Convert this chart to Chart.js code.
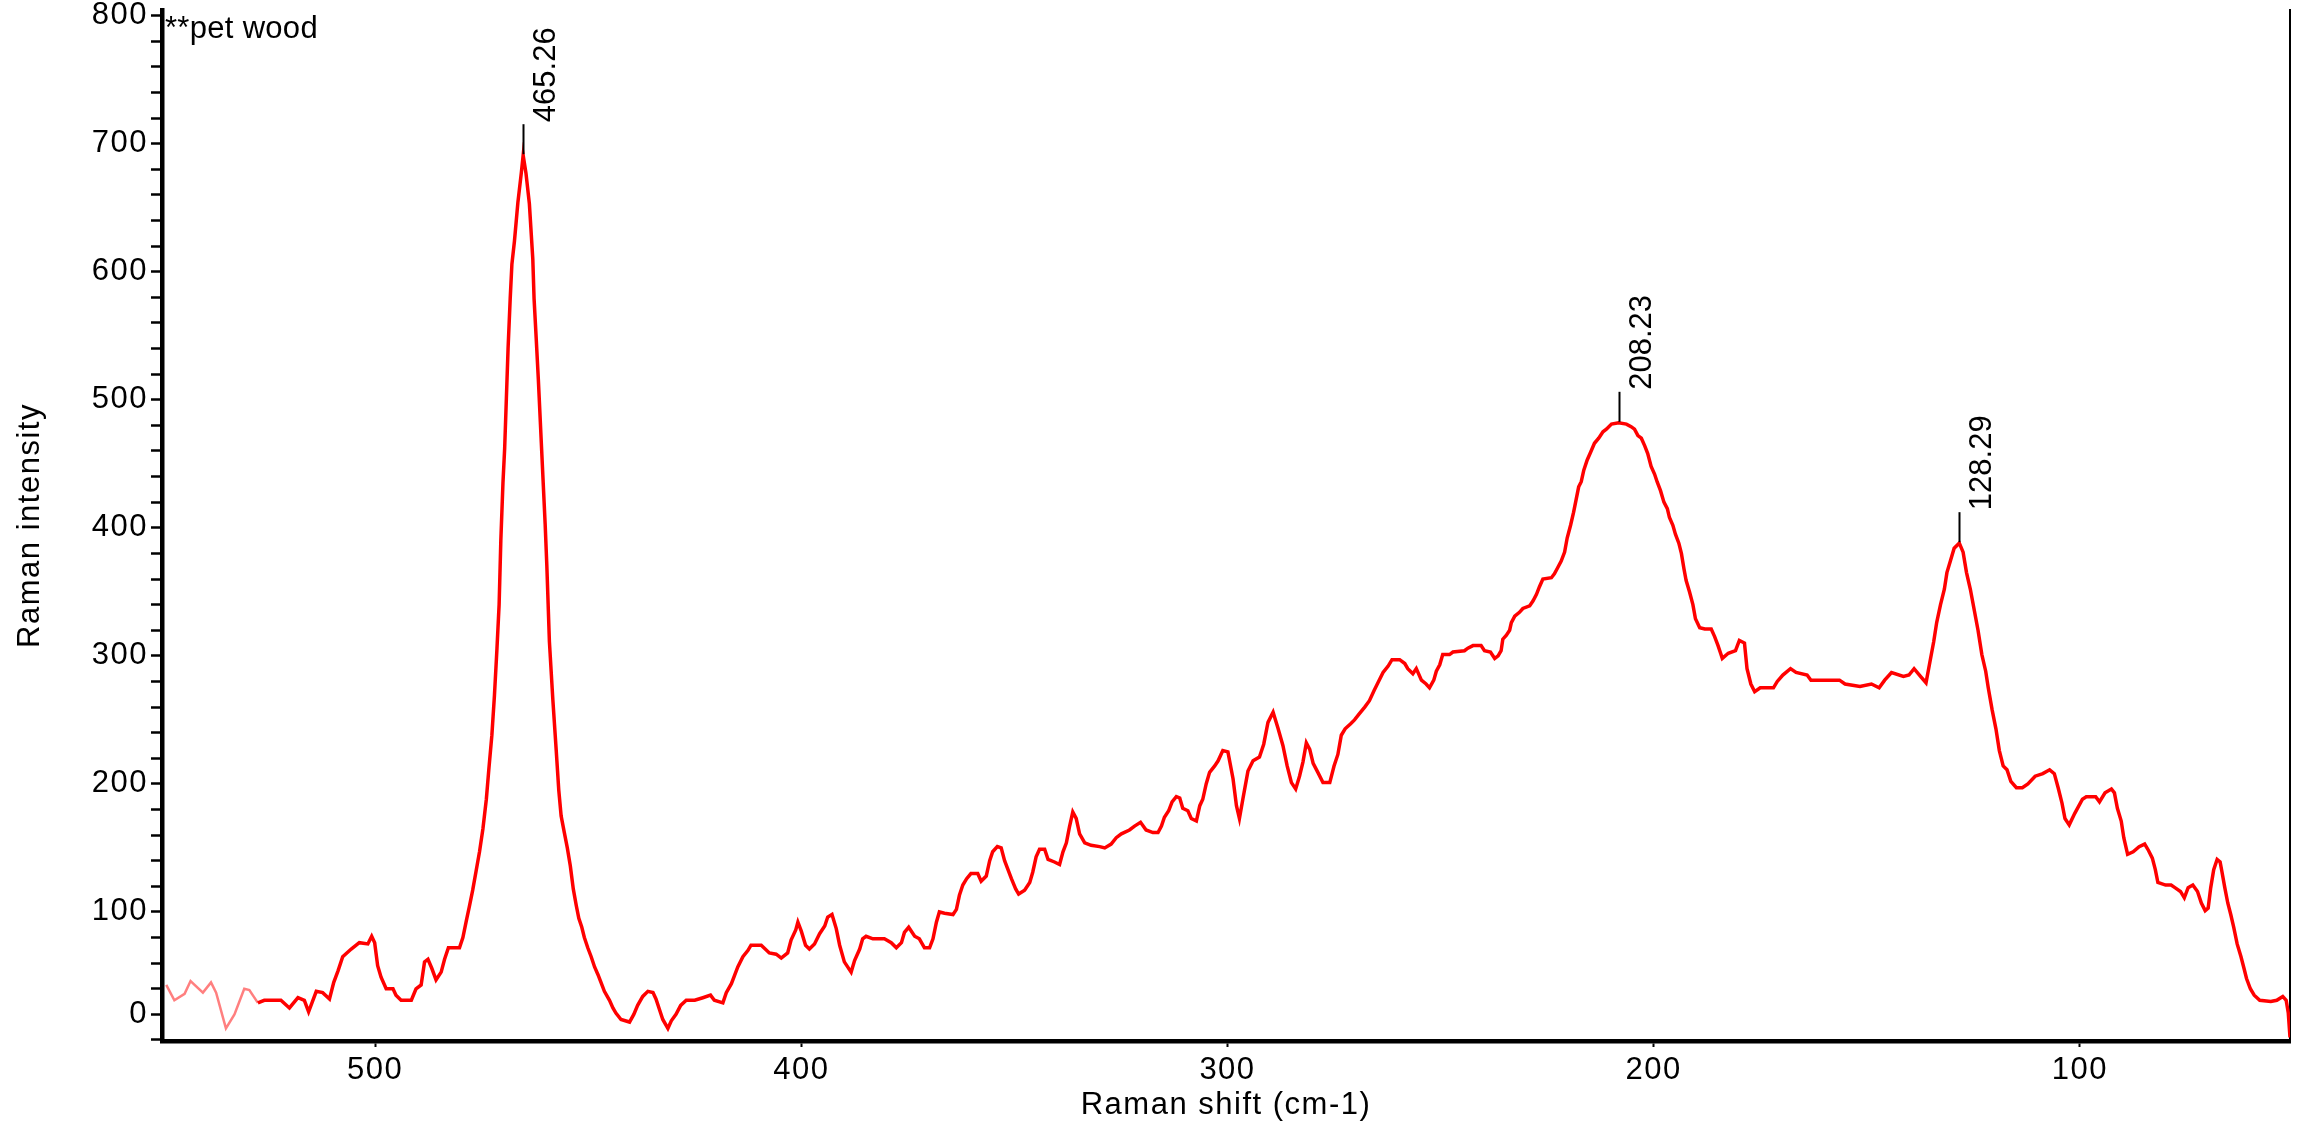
<!DOCTYPE html>
<html>
<head>
<meta charset="utf-8">
<script src="https://cdn.jsdelivr.net/npm/chart.js@4.4.1/dist/chart.umd.min.js"></script>
<style>
  html, body { margin: 0; padding: 0; background: #fff; }
</style>
</head>
<body>
<canvas id="spectrum" width="2305" height="1131"></canvas>
<script>
// spectrum (Raman shift in cm-1, intensity in counts)
const ramanShift = [
  549.0, 547.1, 544.7, 543.3, 540.4, 538.5, 537.3, 535.0, 533.0, 530.7, 529.5, 527.5, 526.0, 522.1, 520.1, 518.1,
  516.6, 515.6, 513.8, 512.3, 510.7, 509.7, 508.7, 507.6, 505.6, 503.7, 501.7, 500.8, 500.1, 499.4, 498.6, 497.4,
  495.8, 495.1, 493.9, 491.5, 490.4, 489.2, 488.4, 487.6, 486.7, 485.7, 484.5, 483.7, 482.8, 480.2, 479.4, 478.6,
  477.9, 477.1, 476.3, 475.5, 474.7, 473.9, 473.3, 472.6, 472.0, 471.4, 470.9, 470.5, 470.0, 469.6, 469.2, 468.8,
  468.3, 467.9, 467.3, 466.5, 465.7, 465.26, 464.6, 463.8, 463.0, 462.7, 462.2, 461.7, 461.15, 460.6, 460.1, 459.7,
  459.1, 458.3, 457.5, 456.9, 456.35, 455.6, 454.9, 454.2, 453.5, 452.8, 452.2, 451.5, 450.9, 450.1, 449.3, 448.5,
  447.7, 447.0, 446.2, 445.0, 444.2, 443.5, 442.3, 440.3, 439.3, 438.4, 437.2, 436.0, 434.8, 434.1, 433.3, 432.5,
  431.3, 430.5, 429.4, 428.3, 427.0, 425.0, 423.1, 421.3, 420.4, 418.4, 417.6, 416.4, 415.7, 414.9, 413.7, 412.5,
  411.8, 409.4, 407.5, 405.9, 404.7, 403.2, 402.4, 401.3, 400.8, 400.0, 399.0, 398.1, 396.9, 395.7, 394.5, 393.8,
  392.8, 391.8, 391.0, 389.9, 388.3, 387.5, 386.3, 385.6, 384.8, 383.2, 380.5, 378.9, 377.7, 376.5, 375.8, 374.8,
  373.4, 372.3, 371.1, 369.9, 369.1, 368.3, 367.6, 366.4, 364.4, 363.6, 362.9, 362.1, 361.2, 360.2, 358.6, 357.8,
  356.6, 355.8, 355.1, 354.0, 353.1, 352.3, 351.5, 350.7, 349.7, 349.0, 347.6, 346.4, 345.7, 344.9, 344.1, 342.9,
  342.1, 340.6, 339.4, 338.6, 337.8, 337.1, 336.3, 335.5, 334.7, 333.5, 332.0, 330.0, 328.8, 327.3, 326.1, 324.9,
  323.0, 321.8, 320.4, 319.1, 317.5, 316.3, 315.5, 314.8, 313.8, 313.0, 312.0, 311.2, 310.5, 309.3, 308.5, 307.3,
  306.5, 305.8, 305.0, 304.2, 303.0, 302.2, 301.1, 299.9, 298.7, 297.9, 297.2, 296.4, 295.2, 294.0, 292.5, 291.5,
  290.5, 289.3, 288.2, 287.0, 286.0, 285.0, 284.0, 283.1, 282.3, 281.5, 280.7, 279.9, 278.8, 277.6, 276.0, 275.0,
  274.1, 273.3, 272.4, 271.1, 270.2, 269.0, 267.8, 266.7, 265.6, 264.7, 263.5, 262.3, 261.4, 259.6, 258.4, 257.7,
  256.5, 255.7, 254.5, 253.4, 252.6, 251.6, 251.0, 250.2, 249.5, 247.9, 247.1, 244.4, 243.6, 242.4, 240.5, 239.7,
  238.3, 237.3, 236.5, 235.8, 235.4, 234.6, 233.8, 233.4, 232.6, 231.5, 230.7, 229.1, 228.3, 227.5, 226.8, 226.0,
  224.0, 223.3, 222.5, 221.7, 220.9, 220.3, 219.5, 218.8, 218.2, 217.6, 217.0, 216.4, 215.6, 214.8, 213.9, 212.9,
  211.9, 211.1, 209.9, 208.23, 206.4, 205.3, 204.5, 203.7, 202.9, 202.1, 201.4, 200.6, 199.8, 199.2, 198.4, 197.6,
  196.8, 196.3, 195.5, 194.9, 194.1, 193.5, 192.9, 192.4, 191.6, 190.8, 190.2, 189.2, 188.0, 186.5, 185.7, 184.9,
  184.3, 183.9, 182.5, 180.8, 179.9, 178.7, 178.1, 177.2, 176.3, 175.0, 171.9, 171.0, 169.7, 167.9, 166.6, 164.0,
  163.1, 156.4, 155.1, 151.6, 148.9, 147.1, 145.8, 144.2, 141.4, 140.1, 138.9, 137.4, 136.1, 135.2, 134.3, 133.6,
  132.7, 131.8, 131.2, 130.3, 129.5, 128.29, 127.4, 126.6, 125.7, 124.8, 123.9, 123.0, 122.1, 121.5, 120.6, 119.7,
  118.9, 118.0, 117.1, 116.2, 114.9, 113.5, 112.2, 110.5, 108.7, 107.1, 106.0, 105.1, 104.2, 103.5, 102.5, 101.2,
  99.4, 98.5, 96.3, 95.4, 94.1, 92.6, 91.9, 91.2, 90.3, 89.7, 88.8, 87.5, 86.1, 84.8, 83.9, 83.0,
  82.3, 81.7, 79.9, 78.6, 77.7, 76.4, 75.5, 74.6, 73.5, 72.4, 71.5, 70.6, 69.9, 69.3, 68.6, 67.8,
  67.1, 66.7, 66.0, 65.3, 64.6, 63.9, 63.1, 62.2, 61.5, 60.9, 60.0, 59.1, 57.8, 55.2, 53.8, 52.4,
  51.6, 51.1, 50.7
];
const intensity = [
  43, 31, 36, 46, 37, 45, 37, 9, 20, 40, 39, 29, 31, 31, 25, 33,
  31, 22, 38, 37, 32, 45, 54, 65, 71, 76, 75, 81, 76, 58, 49, 40,
  40, 35, 31, 31, 40, 43, 61, 63, 56, 47, 53, 63, 72, 72, 80, 93,
  104, 117, 132, 147, 165, 188, 212, 238, 269, 306, 340, 390, 435, 462, 501, 540,
  579, 606, 624, 654, 677, 691, 677, 653, 610, 579, 548, 516, 477, 438, 403, 370,
  311, 266, 226, 195, 175, 162, 150, 136, 118, 105, 95, 88, 80, 72, 65, 57,
  51, 45, 38, 31, 25, 21, 16, 14, 20, 27, 34, 38, 37, 32, 24, 16,
  9, 15, 20, 27, 31, 31, 33, 35, 31, 29, 37, 44, 50, 57, 65, 70,
  74, 74, 68, 67, 64, 68, 78, 86, 92, 85, 74, 71, 75, 83, 89, 96,
  98, 87, 74, 61, 53, 62, 71, 79, 81, 79, 79, 76, 72, 76, 84, 88,
  81, 79, 72, 72, 79, 92, 100, 99, 98, 102, 113, 121, 126, 130, 130, 124,
  128, 140, 147, 151, 150, 140, 133, 126, 118, 114, 117, 123, 131, 143, 149, 149,
  141, 139, 137, 147, 154, 166, 178, 173, 161, 154, 152, 151, 150, 153, 158, 161,
  164, 167, 170, 164, 162, 162, 167, 174, 179, 186, 190, 189, 181, 179, 173, 171,
  183, 188, 200, 209, 214, 218, 226, 225, 204, 183, 173, 188, 210, 218, 221, 231,
  248, 256, 244, 230, 214, 201, 196, 206, 217, 232, 227, 216, 209, 201, 201, 214,
  223, 238, 243, 247, 250, 255, 260, 265, 273, 279, 287, 292, 297, 297, 294, 290,
  286, 290, 281, 278, 275, 281, 288, 293, 301, 301, 303, 304, 306, 308, 308, 304,
  303, 298, 300, 304, 313, 316, 320, 326, 331, 334, 337, 339, 343, 348, 354, 360,
  361, 364, 369, 374, 381, 392, 402, 412, 422, 432, 436, 445, 453, 459, 466, 470,
  475, 477, 481, 482, 481, 479, 477, 472, 470, 464, 458, 448, 442, 436, 429, 420,
  415, 408, 402, 395, 388, 380, 368, 359, 350, 340, 329, 322, 321, 321, 315, 308,
  302, 298, 302, 304, 312, 310, 290, 278, 272, 275, 275, 280, 285, 290, 287, 285,
  281, 281, 278, 276, 278, 275, 281, 287, 284, 285, 290, 284, 279, 295, 311, 326,
  340, 352, 365, 375, 384, 388, 381, 365, 352, 336, 320, 301, 288, 275, 258, 243,
  226, 214, 211, 202, 197, 197, 200, 206, 208, 211, 208, 197, 185, 173, 168, 177,
  188, 190, 190, 186, 193, 196, 193, 181, 171, 158, 145, 147, 151, 153, 148, 142,
  133, 123, 121, 121, 119, 116, 111, 119, 121, 116, 107, 101, 103, 119, 133, 141,
  139, 132, 119, 107, 98, 88, 75, 65, 56, 48, 40, 35, 31, 30, 31, 34,
  31, 21, 2
];

// labelled peaks
const peakShifts = [465.26, 208.23, 128.29];

// axes
const xTicks = [500, 400, 300, 200, 100];
const yMajorTicks = [20, 100, 200, 300, 400, 500, 600, 700, 800];
const yMajorLabels = ['0', '100', '200', '300', '400', '500', '600', '700', '800'];
const yMinorStep = 20;
const sampleName = '**pet wood';

const FONT = '"Liberation Sans", Arial, sans-serif';
const FONT_SIZE = 31;

const points = ramanShift.map((x, i) => ({ x: x, y: intensity[i] }));

// the original software spaces its axis text a little wider
const wideText = {
  id: 'wideText',
  beforeDraw(chart) { chart.ctx.letterSpacing = '1.5px'; }
};

const peakMarks = {
  id: 'peakMarks',
  afterDatasetsDraw(chart) {
    const { ctx, scales: { x, y } } = chart;
    ctx.save();
    ctx.letterSpacing = '0px';
    ctx.strokeStyle = '#000';
    ctx.fillStyle = '#000';
    ctx.lineWidth = 2;
    ctx.font = FONT_SIZE + 'px ' + FONT;
    peakShifts.forEach(p => {
      const i = ramanShift.indexOf(p);
      const px = Math.round(x.getPixelForValue(p)) + 0.5;
      const py = y.getPixelForValue(intensity[i]);
      ctx.beginPath();
      ctx.moveTo(px, py - 1);
      ctx.lineTo(px, py - 31);
      ctx.stroke();
      ctx.save();
      ctx.translate(px + 31, py - 33);
      ctx.rotate(-Math.PI / 2);
      ctx.textAlign = 'left';
      ctx.textBaseline = 'alphabetic';
      ctx.fillText(p.toFixed(2), 0, 0);
      ctx.restore();
    });
    ctx.restore();
  }
};

const sampleLabel = {
  id: 'sampleLabel',
  afterDraw(chart) {
    const { ctx, chartArea } = chart;
    ctx.save();
    ctx.letterSpacing = '0.3px';
    ctx.fillStyle = '#000';
    ctx.font = FONT_SIZE + 'px ' + FONT;
    ctx.textBaseline = 'alphabetic';
    ctx.fillText(sampleName, chartArea.left + 3, chartArea.top + 28);
    ctx.restore();
  }
};

new Chart(document.getElementById('spectrum'), {
  type: 'line',
  data: {
    datasets: [{
      data: points,
      borderColor: '#ff0000',
      borderWidth: 3.5,
      pointRadius: 0,
      tension: 0,
      fill: false,
      segment: {
        borderColor: c => c.p0.parsed.x > 528.4 ? 'rgba(255,0,0,0.5)' : '#ff0000',
        borderWidth: c => c.p0.parsed.x > 528.4 ? 2.5 : 3.5
      }
    }]
  },
  options: {
    responsive: false,
    animation: false,
    devicePixelRatio: 1,
    layout: { padding: { top: 10, right: 15, bottom: 0, left: 0 } },
    plugins: { legend: { display: false }, tooltip: { enabled: false } },
    scales: {
      x: {
        type: 'linear',
        position: 'bottom',
        reverse: true,
        min: 50.7,
        max: 550,
        border: { display: true, color: '#000', width: 4.5 },
        grid: { display: true, drawOnChartArea: false, drawTicks: true, tickLength: 6, tickWidth: 2, tickColor: '#000' },
        ticks: {
          autoSkip: false, maxRotation: 0, padding: 5, color: '#000',
          font: { family: FONT, size: FONT_SIZE },
          callback: v => String(v)
        },
        title: {
          display: true, text: 'Raman shift (cm-1)', color: '#000',
          font: { family: FONT, size: FONT_SIZE }, padding: { top: 0, bottom: 7 }
        },
        afterBuildTicks: s => { s.ticks = xTicks.map(v => ({ value: v })); },
        afterFit: s => { s.height = 90; s.paddingLeft = 0; s.paddingRight = 0; }
      },
      y: {
        type: 'linear',
        position: 'left',
        min: -0.8,
        max: 804.4,
        border: { display: true, color: '#000', width: 4.5 },
        grid: { display: true, drawOnChartArea: false, drawTicks: true, tickLength: 11, tickWidth: 2.5, tickColor: '#000' },
        ticks: {
          autoSkip: false, padding: 3, color: '#000',
          font: { family: FONT, size: FONT_SIZE },
          callback: v => {
            const i = yMajorTicks.indexOf(v);
            return i >= 0 ? yMajorLabels[i] : '';
          }
        },
        title: {
          display: true, text: 'Raman intensity', color: '#000',
          font: { family: FONT, size: FONT_SIZE }, padding: { top: 12, bottom: 0 }
        },
        afterBuildTicks: s => {
          const t = [];
          for (let v = 0; v <= 800; v += yMinorStep) t.push({ value: v });
          s.ticks = t;
        },
        afterFit: s => { s.width = 162; s.paddingTop = 0; s.paddingBottom = 0; }
      },
      frame: {
        type: 'linear',
        position: 'right',
        min: 0,
        max: 1,
        display: true,
        border: { display: true, color: '#000', width: 2 },
        grid: { display: false, drawTicks: false },
        ticks: { display: false },
        afterFit: s => { s.width = 0; }
      }
    }
  },
  plugins: [wideText, peakMarks, sampleLabel]
});
</script>
</body>
</html>
